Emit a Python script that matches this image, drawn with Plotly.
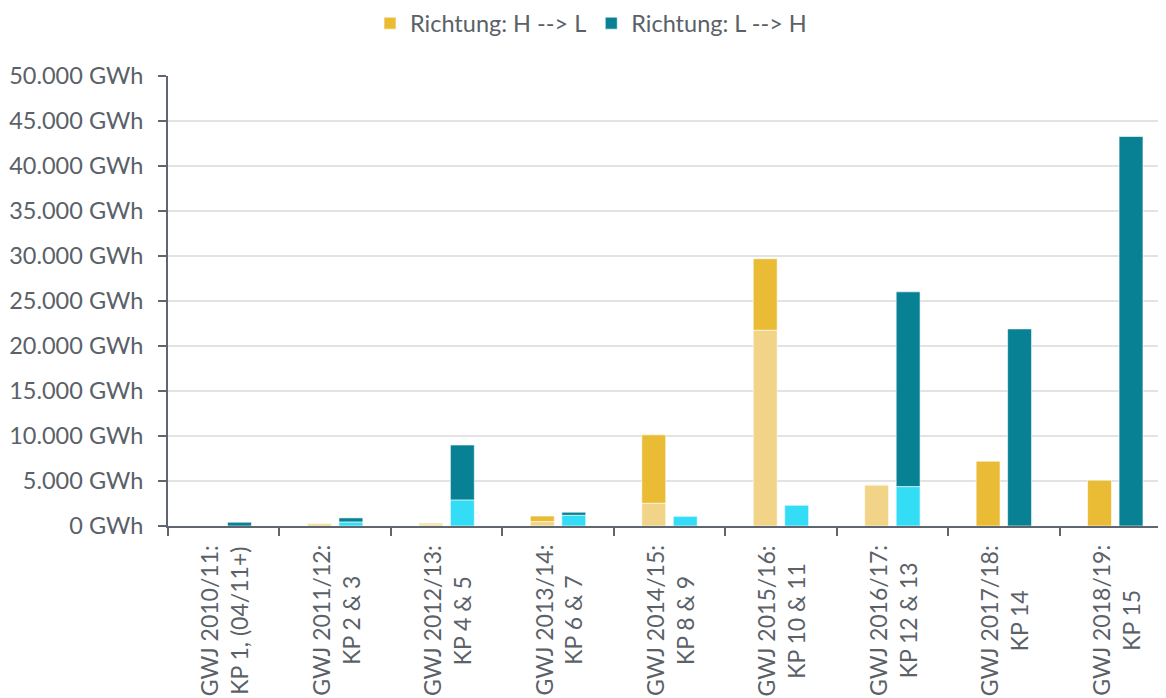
import plotly.graph_objects as go

categories = [
    "GWJ 2010/11:<br>KP 1, (04/11+)",
    "GWJ 2011/12:<br>KP 2 & 3",
    "GWJ 2012/13:<br>KP 4 & 5",
    "GWJ 2013/14:<br>KP 6 & 7",
    "GWJ 2014/15:<br>KP 8 & 9",
    "GWJ 2015/16:<br>KP 10 & 11",
    "GWJ 2016/17:<br>KP 12 & 13",
    "GWJ 2017/18:<br>KP 14",
    "GWJ 2018/19:<br>KP 15",
]

# H --> L : lower (light) part and upper (dark) part, GWh
hl_light = [0, 250, 150, 490, 2530, 21750, 4570, 0, 0]
hl_dark = [0, 50, 150, 620, 7600, 7950, 0, 7200, 5090]

# L --> H : lower (cyan) part and upper (teal) part, GWh
lh_light = [0, 450, 2900, 1190, 1110, 2340, 4380, 0, 0]
lh_dark = [420, 450, 6100, 340, 0, 0, 21640, 21900, 43280]

GOLD = "#EABC36"
GOLD_LIGHT = "#F2D488"
TEAL = "#078193"
CYAN = "#33DDF6"
TEXT = "#5A6168"
AXIS = "#5F6670"
FS = 23.5

fig = go.Figure()
line = dict(color="rgba(255,255,255,0.6)", width=1)

fig.add_trace(go.Bar(x=categories, y=hl_light, offsetgroup="hl", marker=dict(color=GOLD_LIGHT, line=line),
                     showlegend=False, name="H --> L (Teil)"))
fig.add_trace(go.Bar(x=categories, y=hl_dark, base=hl_light, offsetgroup="hl", marker=dict(color=GOLD, line=line),
                     name="Richtung: H --> L"))
fig.add_trace(go.Bar(x=categories, y=lh_light, offsetgroup="lh", marker=dict(color=CYAN, line=line),
                     showlegend=False, name="L --> H (Teil)"))
fig.add_trace(go.Bar(x=categories, y=lh_dark, base=lh_light, offsetgroup="lh", marker=dict(color=TEAL, line=line),
                     name="Richtung: L --> H"))

# category labels, rotated, lines centred
for c in categories:
    fig.add_annotation(x=c, xref="x", y=0, yref="paper", yanchor="top", xanchor="center",
                       yshift=-17, textangle=-90, align="center", showarrow=False, text=c,
                       font=dict(size=23, color=TEXT))

fig.update_layout(
    width=1166, height=698,
    barmode="group", bargap=0.435, bargroupgap=0.24,
    plot_bgcolor="white", paper_bgcolor="white",
    separators=",.",
    font=dict(family="Lato, Open Sans, sans-serif", size=FS, color=TEXT),
    margin=dict(l=160, r=3, t=68, b=180, autoexpand=False),
    legend=dict(orientation="h", xref="container", x=0.5, xanchor="center",
                yref="container", y=0.978, yanchor="middle", font=dict(size=FS, color=TEXT),
                itemwidth=30, traceorder="normal"),
    xaxis=dict(showticklabels=False, showline=True, linecolor=AXIS, linewidth=2,
               ticks="outside", tickson="boundaries", ticklen=8, tickcolor=AXIS, tickwidth=2),
    yaxis=dict(range=[0, 50000], dtick=5000, tickformat=",d", ticksuffix=" GWh",
               showline=True, linecolor=AXIS, linewidth=2, ticks="outside", ticklen=8, tickwidth=2,
               tickcolor=AXIS, gridcolor="#E3E3E3", gridwidth=2, ticklabelstandoff=10,
               tickfont=dict(size=FS, color=TEXT), zeroline=False),
)

fig.write_html("out.html")
